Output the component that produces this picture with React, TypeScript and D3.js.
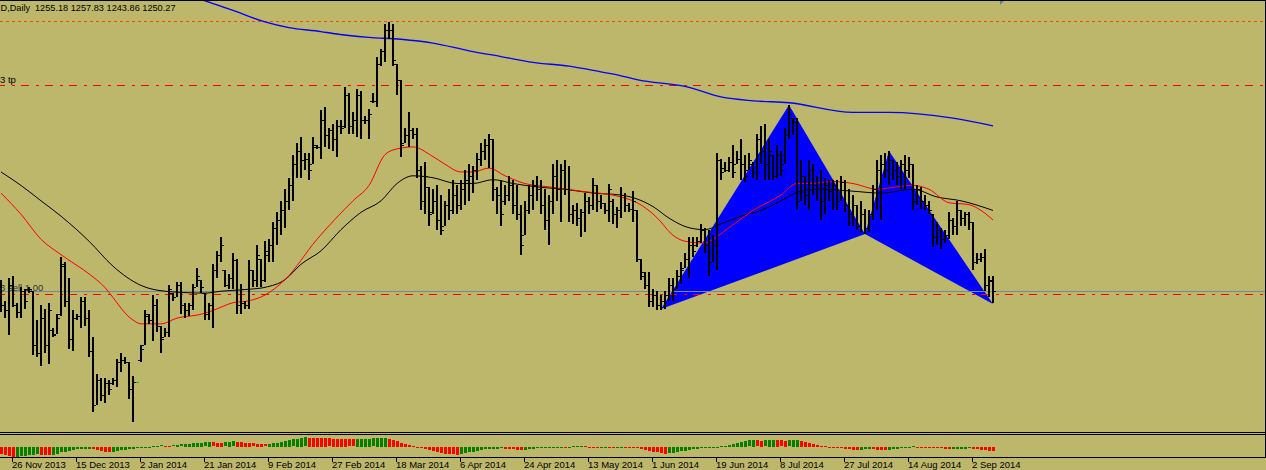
import * as d3 from "d3";

// ---- data (daily bars, ~Nov 2013 .. Sep 2014) ----
const opens = [
  1251,1243,1240,1253,1243,1239,1250,1251,1250,1222,
  1218,1236,1222,1230,1228,1238,1263,1245,1225,1236,
  1237,1245,1236,1219,1191,1204,1196,1202,1202,1204,
  1213,1214,1213,1199,1203,1214,1222,1237,1235,1243,
  1232,1226,1229,1249,1247,1253,1243,1240,1243,1252,
  1256,1249,1238,1243,1261,1269,1261,1253,1257,1266,
  1243,1244,1243,1261,1256,1267,1256,1269,1274,1283,
  1287,1292,1297,1305,1316,1323,1318,1319,1316,1325,
  1325,1339,1331,1334,1329,1336,1336,1352,1336,1339,
  1352,1339,1339,1349,1349,1368,1375,1386,1386,1368,
  1360,1327,1331,1334,1332,1313,1297,1304,1291,1297,
  1287,1284,1295,1292,1300,1295,1303,1308,1310,1313,
  1319,1323,1326,1329,1303,1300,1297,1300,1305,1295,
  1290,1279,1292,1300,1305,1303,1295,1287,1297,1310,
  1303,1313,1303,1290,1292,1288,1291,1297,1295,1305,
  1297,1296,1292,1297,1290,1292,1300,1295,1293,1292,
  1267,1258,1253,1245,1248,1243,1245,1248,1253,1251,
  1258,1262,1267,1274,1274,1276,1282,1274,1265,1274,
  1318,1314,1313,1317,1316,1319,1316,1313,1316,1312,
  1329,1323,1316,1321,1310,1321,1316,1331,1340,1338,
  1297,1310,1300,1313,1305,1303,1297,1305,1302,1305,
  1297,1307,1295,1290,1295,1284,1290,1283,1290,1303,
  1313,1316,1313,1318,1313,1310,1316,1313,1316,1297,
  1303,1297,1295,1290,1278,1282,1277,1279,1287,1284,
  1292,1288,1290,1286,1265,1267,1268,1253,1255.18,
];
const highs = [
  1256,1245,1257,1258,1244,1252,1251,1252,1250,1235,
  1243,1241,1244,1231,1238,1268,1265,1257,1240,1238,
  1247,1247,1240,1226,1207,1205,1205,1204,1205,1215,
  1218,1216,1213,1206,1203,1222,1240,1238,1248,1246,
  1232,1231,1253,1249,1255,1255,1244,1244,1254,1262,
  1256,1249,1244,1264,1271,1278,1261,1259,1270,1267,
  1254,1245,1266,1261,1274,1267,1276,1277,1286,1291,
  1297,1303,1309,1321,1327,1330,1322,1322,1330,1326,
  1344,1346,1335,1337,1339,1339,1356,1353,1343,1355,
  1354,1341,1345,1353,1372,1376,1389,1390,1389,1368,
  1360,1335,1343,1335,1335,1315,1317,1304,1303,1305,
  1300,1297,1303,1308,1305,1308,1313,1316,1315,1322,
  1327,1329,1332,1329,1304,1308,1305,1310,1308,1305,
  1295,1297,1305,1308,1310,1308,1303,1300,1316,1318,
  1316,1318,1315,1295,1296,1293,1301,1299,1309,1305,
  1300,1296,1306,1298,1294,1304,1301,1296,1302,1292,
  1267,1260,1260,1251,1250,1248,1250,1257,1257,1261,
  1265,1270,1278,1278,1278,1285,1283,1282,1279,1322,
  1319,1317,1320,1326,1323,1329,1321,1322,1317,1332,
  1336,1337,1329,1321,1326,1323,1335,1347,1340,1340,
  1318,1310,1318,1316,1310,1313,1309,1308,1308,1308,
  1310,1308,1303,1300,1295,1297,1293,1292,1305,1318,
  1321,1322,1323,1318,1317,1318,1321,1320,1316,1305,
  1304,1300,1297,1290,1286,1283,1282,1291,1288,1297,
  1292,1291,1291,1286,1270,1270,1272,1258,1257.83,
];
const lows = [
  1239,1236,1227,1242,1236,1236,1241,1249,1217,1216,
  1211,1218,1212,1226,1228,1237,1242,1220,1219,1235,
  1231,1232,1216,1187,1191,1193,1192,1196,1201,1200,
  1208,1212,1194,1182,1203,1213,1222,1233,1224,1229,
  1218,1226,1226,1245,1247,1238,1236,1237,1240,1252,
  1249,1235,1235,1231,1257,1265,1252,1251,1251,1238,
  1238,1241,1241,1252,1252,1252,1255,1265,1265,1274,
  1279,1283,1292,1297,1309,1309,1313,1308,1316,1324,
  1319,1325,1324,1323,1320,1332,1335,1332,1332,1330,
  1329,1337,1329,1348,1346,1367,1369,1381,1367,1352,
  1320,1327,1325,1329,1309,1292,1290,1284,1290,1282,
  1279,1284,1287,1290,1290,1292,1295,1297,1301,1308,
  1315,1318,1314,1297,1290,1284,1295,1297,1290,1287,
  1269,1279,1290,1292,1297,1290,1282,1274,1290,1297,
  1286,1300,1286,1285,1284,1278,1281,1290,1292,1291,
  1293,1290,1286,1285,1283,1288,1291,1291,1286,1265,
  1256,1251,1242,1242,1240,1240,1241,1245,1245,1251,
  1254,1262,1257,1268,1273,1275,1270,1258,1265,1261,
  1308,1312,1312,1309,1316,1308,1307,1313,1309,1308,
  1316,1308,1308,1308,1309,1310,1316,1329,1331,1292,
  1297,1295,1292,1300,1297,1287,1290,1297,1292,1292,
  1297,1291,1284,1284,1282,1281,1280,1281,1287,1292,
  1287,1309,1305,1308,1305,1303,1303,1309,1292,1295,
  1293,1292,1290,1273,1274,1272,1275,1277,1279,1279,
  1284,1284,1282,1261,1264,1265,1250,1247,1243.86,
];
const closes = [
  1243,1240,1253,1243,1239,1250,1245,1251,1222,1218,
  1236,1222,1240,1227,1236,1264,1245,1225,1236,1237,
  1245,1236,1219,1191,1204,1196,1202,1199,1204,1213,
  1214,1213,1199,1203,1203,1220,1238,1235,1243,1232,
  1225,1229,1251,1247,1253,1243,1240,1243,1252,1258,
  1252,1238,1243,1261,1269,1274,1253,1257,1266,1243,
  1251,1243,1261,1256,1269,1256,1271,1274,1283,1287,
  1292,1297,1305,1316,1323,1318,1319,1313,1326,1325,
  1339,1331,1334,1329,1336,1335,1352,1336,1339,1352,
  1339,1339,1342,1349,1368,1375,1386,1386,1370,1360,
  1326,1331,1334,1332,1313,1297,1310,1290,1297,1287,
  1282,1295,1292,1300,1295,1303,1308,1310,1313,1319,
  1323,1326,1329,1303,1300,1290,1300,1305,1295,1290,
  1274,1292,1300,1305,1303,1295,1287,1297,1310,1303,
  1313,1303,1290,1292,1288,1291,1297,1295,1305,1297,
  1296,1292,1303,1290,1292,1300,1295,1293,1297,1267,
  1260,1253,1245,1248,1243,1245,1248,1253,1251,1258,
  1261,1267,1274,1271,1276,1282,1274,1265,1274,1318,
  1312,1313,1317,1312,1319,1316,1310,1318,1312,1329,
  1323,1316,1323,1310,1321,1313,1331,1342,1338,1297,
  1310,1300,1313,1305,1303,1297,1305,1302,1305,1297,
  1307,1295,1290,1295,1284,1290,1283,1290,1303,1313,
  1316,1313,1318,1313,1310,1316,1313,1316,1297,1303,
  1297,1295,1292,1278,1282,1277,1279,1287,1284,1292,
  1288,1290,1286,1265,1267,1268,1253,1256,1250.27,
];
// single-price bar drawn in the line colour
const flatBars = [34];

// moving averages: [bar index, price]
const maRed: [number, number][] = [
  [0,1301],[5,1290],[10,1277],[15,1269],[22,1259],[25,1254],[33,1235],[35,1233],
  [40,1233],[44,1236],[50,1238],[53,1240],[58,1244],[62,1245],[66,1248],[71,1256],
  [79,1277],[88,1297],[92,1305],[96,1321],[99,1324],[103,1325],[108,1320],[111,1316],
  [115,1312],[118,1312],[122,1314],[126,1310],[131,1306],[138,1304],[145,1302],[155,1299],
  [159,1296],[165,1286],[167,1281],[171,1276],[176,1275],[178,1277],[182,1283],[188,1292],
  [195,1300],[199,1306],[202,1306],[208,1307],[213,1306],[219,1303],[223,1304],[228,1305],
  [232,1303],[237,1296],[242,1295],[245,1292],[248,1287],
];
const maBlack: [number, number][] = [
  [0,1312],[5,1305],[10,1297],[15,1289],[22,1276],[28,1263],[35,1253],[41,1250],
  [51,1249],[55,1250],[62,1251],[66,1252],[71,1256],[75,1264],[80,1271],[85,1282],
  [90,1291],[95,1297],[99,1306],[103,1310],[108,1309],[114,1306],[118,1306],[123,1308],
  [128,1306],[135,1304],[141,1303],[148,1301],[155,1300],[163,1294],[167,1288],[172,1283],
  [176,1282],[180,1285],[185,1289],[190,1292],[195,1297],[200,1302],[205,1303],[213,1302],
  [220,1301],[228,1303],[234,1299],[240,1297],[248,1292],
];
const maBlue: [number, number][] = [
  [48,1403],[51,1401],[58,1396],[66,1390],[72,1387],[80,1385],[83,1384],[92,1382],
  [100,1381],[108,1379],[117,1375],[125,1372],[133,1369],[142,1367],[150,1364],[155,1362],
  [159,1360],[172,1356],[180,1351],[188,1349],[197,1348],[213,1343],[222,1343],[238,1340],
  [248,1336],
];

// oscillator in the lower window
const osc = [
  -7,-8.3,-9.3,-10,-9.6,-9.2,-8.8,-8.3,-7.8,-7.2,
  -7.5,-7.9,-8.3,-7.6,-6.6,-5.5,-4.5,-3.6,-2.8,-2.4,
  -2.1,-1.9,-1.7,-2.2,-3,-3.8,-4.5,-5,-4.6,-4,
  -3.4,-2.8,-2.2,-1.8,-1.4,-1,-0.7,-0.4,0.4,0.9,
  1.3,1.1,0.9,1.4,1.9,2.4,2.8,3.2,3.5,3.8,
  4.1,4.3,4.5,4.3,4.1,3.9,4.4,4.9,5.3,5,
  4.6,4.2,3.8,3.4,3,2.7,2.4,2.9,3.5,4.2,
  5,5.8,6.6,7.4,8.2,8.9,9.4,9.2,9,8.9,
  8.7,8.5,8.3,8.1,7.9,7.7,7.6,7.4,7.3,7.5,
  7.7,7.9,8.1,8.3,8.5,8.7,8.9,8.2,7,5.6,
  4.2,3,1.9,0.9,0.2,-0.8,-1.9,-3,-4.1,-5.1,
  -6,-6.7,-7.1,-7.4,-7.6,-7,-6.2,-5.3,-4.5,-3.7,
  -3,-2.4,-2.1,-1.8,-1.6,-1.5,-1.8,-2.2,-2.5,-2.8,
  -3,-2.6,-2.1,-1.7,-1.3,-1,-0.7,-0.5,-0.3,-0.2,
  -0.1,-0.2,-0.1,0.3,0.6,0.8,0.3,-0.2,-0.6,-0.9,
  -0.8,-0.7,-0.8,-0.9,-0.8,-0.7,-0.8,-0.9,-1,-1.4,
  -1.9,-2.6,-3.6,-4.6,-5.5,-6.2,-6.7,-6.3,-5.7,-5,
  -4.3,-3.6,-3,-2.4,-1.9,-1.4,-1,-0.6,-0.3,0.1,
  0.5,1.2,2,2.8,4,5,5.8,6.3,6.6,6.4,
  6.2,6.4,6.6,6.7,6.5,6.3,6.1,6.3,6.5,6.6,
  6,4.8,3.6,2.5,1.5,0.8,0.3,-0.2,-0.6,-1,
  -1.5,-1.9,-2.3,-2.6,-2.8,-2.6,-2.4,-2.3,-2.5,-2.8,
  -3,-3.1,-2.7,-2.2,-1.6,-1,-0.5,-0.1,0.3,0.2,
  0,-0.2,-0.5,-0.8,-1.1,-1.5,-2,-2.4,-2.2,-2,
  -1.8,-1.6,-1.5,-1.8,-2.3,-2.8,-3.3,-3.8,-4.4,
];

// harmonic pattern X A B C D
const patternBars = [165, 197, 216, 222, 248];
const patternPrices = [1240.7, 1346.8, 1279.7, 1322.9, 1243.3];

// horizontal levels
const dotLevel = 1390.5;
const tpLevel = 1357.2;
const orderLevel = 1248.5;
const bidLevel = 1250.27;

// texts
const titleSymbol = "D,Daily";
const titleQuotes = "1255.18 1257.83 1243.86 1250.27";
const tpLabel = "3 tp";
const orderLabel = "3 sell 1.00";

// time axis
const tickBars = [3, 19, 35, 51, 67, 83, 99, 115, 131, 147, 163, 179, 195, 211, 227, 243];
const tickLabels = [
  "26 Nov 2013", "15 Dec 2013", "2 Jan 2014", "21 Jan 2014", "9 Feb 2014", "27 Feb 2014",
  "18 Mar 2014", "6 Apr 2014", "24 Apr 2014", "13 May 2014", "1 Jun 2014", "19 Jun 2014",
  "8 Jul 2014", "27 Jul 2014", "14 Aug 2014", "2 Sep 2014",
];

const W = 1266;
const H = 470;
const mainBottom = 432;
const bg = "#BDB76B";
const font = "'Liberation Sans', Arial, sans-serif";

export default function App() {
  const x = d3.scaleLinear().domain([0, 248]).range([1, 993]);
  const y = d3.scaleLinear().domain([1176.78, 1401.42]).range([mainBottom, 0]);
  const yo = d3.scaleLinear().domain([-10.5, 10.5]).range([457.2, 436.2]);

  const maLine = d3.line<[number, number]>()
    .x(d => x(d[0]))
    .y(d => y(d[1]))
    .curve(d3.curveMonotoneX);

  const px = (i: number) => Math.round(x(i));
  const py = (p: number) => Math.round(y(p));

  const tri1 = [0, 1, 2].map(k => [x(patternBars[k]), y(patternPrices[k])].join(",")).join(" ");
  const tri2 = [2, 3, 4].map(k => [x(patternBars[k]), y(patternPrices[k])].join(",")).join(" ");

  const zero = yo(0);

  return (
    <svg width={W} height={H} style={{ position: "absolute", left: 0, top: 0, display: "block" }}>
      <defs>
        <clipPath id="mainClip"><rect x={0} y={1} width={1265} height={mainBottom - 1} /></clipPath>
        <clipPath id="oscClip"><rect x={0} y={435} width={1265} height={22} /></clipPath>
      </defs>
      <rect width={W} height={H} fill={bg} />

      <g clipPath="url(#mainClip)">
        {/* pattern triangles */}
        <polygon points={tri1} fill="#0000FF" />
        <polygon points={tri2} fill="#0000FF" />

        {/* levels */}
        <line x1={0} x2={1265} y1={py(dotLevel) + 0.5} y2={py(dotLevel) + 0.5}
          stroke="#FF4500" strokeDasharray="3,3" />
        <line x1={-3} x2={1265} y1={py(tpLevel) + 0.5} y2={py(tpLevel) + 0.5}
          stroke="#FF0000" strokeDasharray="8,7,3,6" />
        <line x1={0} x2={1265} y1={py(bidLevel) + 0.5} y2={py(bidLevel) + 0.5}
          stroke="#778899" />
        <line x1={-3} x2={1265} y1={py(orderLevel) + 0.5} y2={py(orderLevel) + 0.5}
          stroke="#FF0000" strokeDasharray="8,7,3,6" />

        {/* level labels (under the bars) */}
        <text x={0} y={83} fontFamily={font} fontSize={9.5} fill="#000">{tpLabel}</text>
        <text x={0} y={291} fontFamily={font} fontSize={9.5} fill="#333">{orderLabel}</text>

        {/* moving averages */}
        <path d={maLine(maBlue) ?? ""} fill="none" stroke="#0000FF" strokeWidth={1.3} />
        <path d={maLine(maBlack) ?? ""} fill="none" stroke="#000000" strokeWidth={1} />
        <path d={maLine(maRed) ?? ""} fill="none" stroke="#FF0000" strokeWidth={1} />

        {/* bars */}
        <g shapeRendering="crispEdges">
          {opens.map((o, i) => {
            const xi = px(i);
            if (flatBars.includes(i)) {
              return <rect key={i} x={xi - 1} y={py(o)} width={3} height={1} fill="#00CC00" />;
            }
            const yh = py(highs[i]);
            const yl = py(lows[i]);
            return (
              <g key={i} fill="#000">
                <rect x={xi - 1} y={yh} width={2} height={Math.max(1, yl - yh)} />
                <rect x={xi - 3} y={py(o)} width={2} height={1} />
                <rect x={xi + 1} y={py(closes[i])} width={2} height={1} />
              </g>
            );
          })}
        </g>
      </g>

      {/* title */}
      <text x={0.5} y={11} fontFamily={font} fontSize={9.2} fill="#000">{titleSymbol}</text>
      <text x={35} y={11} fontFamily={font} fontSize={9.2} fill="#000">{titleQuotes}</text>

      {/* chart shift marker */}
      <polygon points="1000,1 1004,1 1000,5" fill="#6A7A9A" />

      {/* oscillator window */}
      <g clipPath="url(#oscClip)" shapeRendering="crispEdges">
        {osc.map((v, i) => {
          const up = i === 0 ? false : v > osc[i - 1];
          const yv = yo(v);
          const top = Math.round(Math.min(yv, zero));
          const h = Math.max(1, Math.round(Math.abs(yv - zero)));
          return <rect key={i} x={px(i) - 1} y={top} width={3} height={h} fill={up ? "#008000" : "#FF0000"} />;
        })}
      </g>

      {/* frames */}
      <g stroke="#000" shapeRendering="crispEdges">
        <line x1={0} x2={1266} y1={0.5} y2={0.5} />
        <line x1={0} x2={1266} y1={mainBottom + 0.5} y2={mainBottom + 0.5} />
        <line x1={0} x2={1266} y1={434.5} y2={434.5} />
        <line x1={0} x2={1266} y1={457.5} y2={457.5} />
        <line x1={1265.5} x2={1265.5} y1={0} y2={458} />
        {tickBars.map(b => (
          <line key={b} x1={px(b) - 0.5} x2={px(b) - 0.5} y1={458} y2={462} />
        ))}
      </g>

      {/* time labels */}
      {tickBars.map((b, k) => (
        <text key={b} x={px(b) - 1} y={468} fontFamily={font} fontSize={9.5} fill="#000">{tickLabels[k]}</text>
      ))}
    </svg>
  );
}
